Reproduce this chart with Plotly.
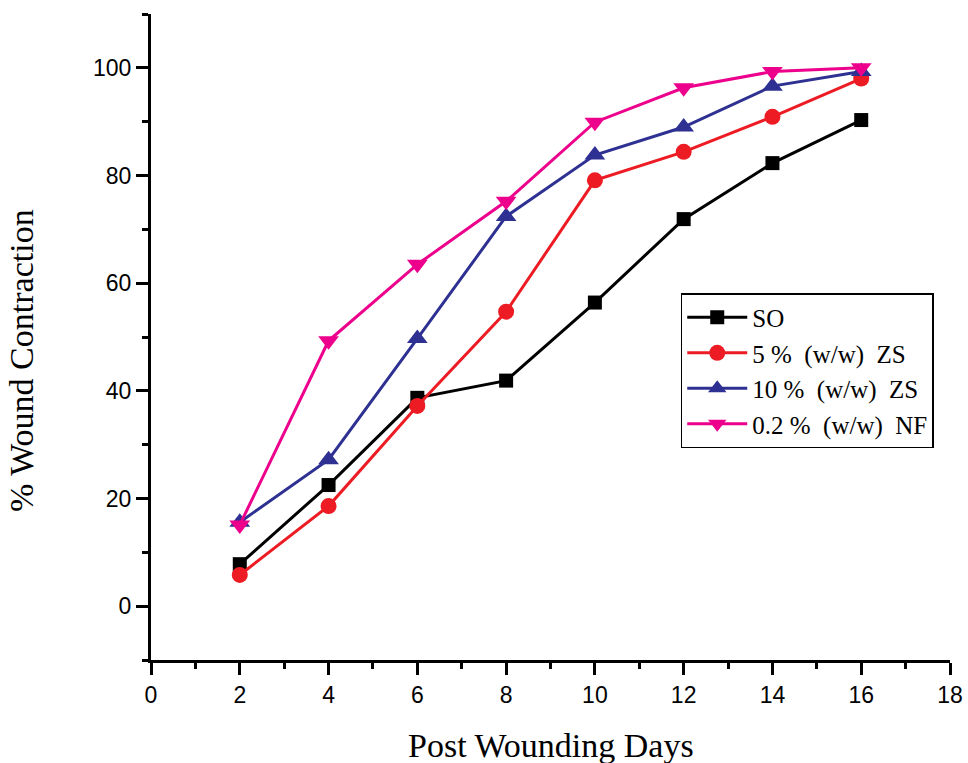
import plotly.graph_objects as go

days = [2, 4, 6, 8, 10, 12, 14, 16]
so = [7.8, 22.5, 38.7, 41.9, 56.4, 71.9, 82.3, 90.3]
zs5 = [5.8, 18.6, 37.2, 54.7, 79.1, 84.4, 90.9, 98.0]
zs10 = [15.6, 27.2, 49.7, 72.4, 83.8, 89.0, 96.6, 99.3]
nf = [15.1, 49.3, 63.5, 75.2, 89.9, 96.3, 99.3, 100.0]

names = ["SO", "5 %  (w/w)  ZS", "10 %  (w/w)  ZS", "0.2 %  (w/w)  NF"]
colors = ["#000000", "#ED1C24", "#2E3192", "#EC008C"]
symbols = ["square", "circle", "triangle-up", "triangle-down"]
sizes = [14, 16, 18, 18]
series = [so, zs5, zs10, nf]

fig = go.Figure()
for name, ys, c, s, sz in zip(names, series, colors, symbols, sizes):
    fig.add_trace(go.Scatter(
        x=days, y=ys, name=name, mode="lines+markers",
        line=dict(color=c, width=3),
        marker=dict(symbol=s, size=sz, color=c, line=dict(width=0)),
    ))

axis_common = dict(
    showline=True, linecolor="black", linewidth=3, mirror=False,
    showgrid=False, zeroline=False, automargin=False,
    ticks="outside", ticklen=12, tickwidth=3, tickcolor="black",
    tickfont=dict(family="Liberation Sans, Arial", size=23, color="black"),
)

title_font = dict(family="Liberation Serif, Times New Roman", size=34, color="black")

fig.update_layout(
    width=968, height=763,
    margin=dict(l=151, r=18, t=14, b=103),
    paper_bgcolor="white", plot_bgcolor="white",
    xaxis=dict(range=[0, 18], dtick=2, tick0=0,
               minor=dict(ticks="outside", ticklen=6, tickwidth=3, tickcolor="black", dtick=1),
               **axis_common),
    yaxis=dict(range=[-10, 110], dtick=20, tick0=0,
               minor=dict(ticks="outside", ticklen=6, tickwidth=3, tickcolor="black", dtick=10),
               **axis_common),
    annotations=[
        dict(text="Post Wounding Days", xref="paper", yref="paper", x=0.5, y=-0.1316,
             xanchor="center", yanchor="middle", showarrow=False, font=title_font),
        dict(text="% Wound Contraction", xref="paper", yref="paper", x=-0.1615, y=0.4644,
             xanchor="center", yanchor="middle", showarrow=False, textangle=-90, font=title_font),
    ],
    legend=dict(x=0.663, y=0.568, xanchor="left", yanchor="top",
                bordercolor="black", borderwidth=1.5, bgcolor="white",
                font=dict(family="Liberation Serif, Times New Roman", size=25, color="black"),
                itemwidth=60, tracegroupgap=0),
    showlegend=True,
)

fig.write_html("out.html", config={"displayModeBar": False},
               post_script="document.body.style.margin='0';")
